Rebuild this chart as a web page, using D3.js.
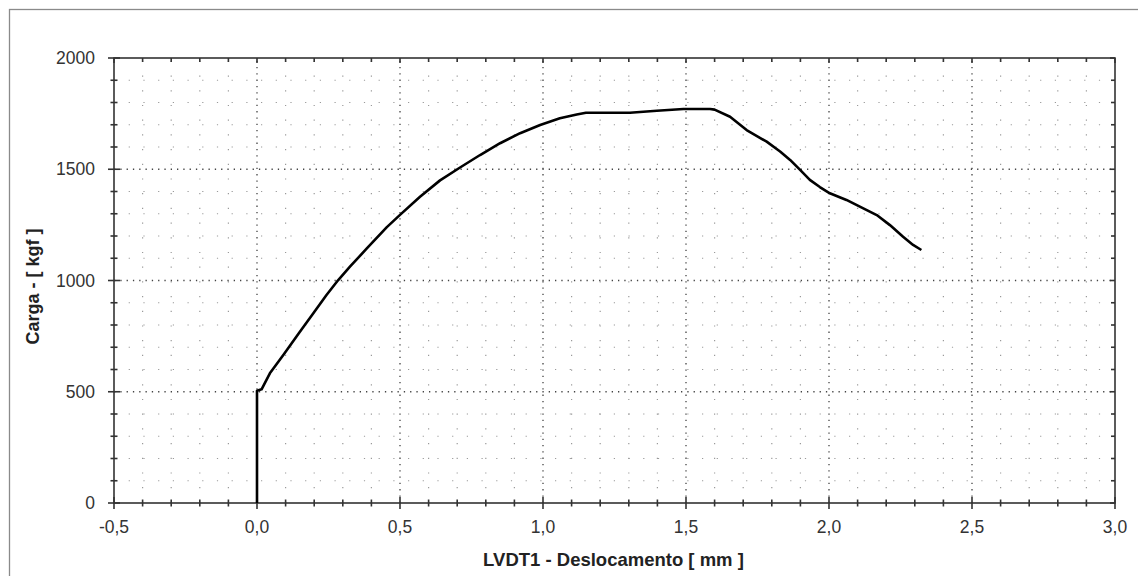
<!DOCTYPE html>
<html><head><meta charset="utf-8">
<script src="https://cdn.jsdelivr.net/npm/d3@7"></script>
<style>
html,body{margin:0;padding:0;background:#fff;overflow:hidden;}
svg{display:block;font-family:"Liberation Sans",Arial,sans-serif;}
</style></head>
<body><svg id="c" width="1138" height="576"></svg>
<script>
// ---- data ----
const deslocamento = [0.000, 0.000, 0.016, 0.045, 0.092, 0.150, 0.197, 0.243, 0.284, 0.325, 0.384, 0.454, 0.500, 0.570, 0.640, 0.710, 0.780, 0.850, 0.920, 0.990, 1.059, 1.118, 1.150, 1.304, 1.398, 1.491, 1.584, 1.600, 1.654, 1.712, 1.782, 1.829, 1.864, 1.899, 1.933, 1.968, 2.003, 2.061, 2.120, 2.167, 2.213, 2.259, 2.294, 2.323];
const carga        = [0,     505,   511,   583,   665,   770,   853,   935,   1002,  1062,  1144,  1240,  1295,  1376,  1450,  1508,  1564,  1617,  1662,  1699,  1729,  1746,  1754,  1754,  1763,  1771,  1771,  1768,  1736,  1676,  1624,  1580,  1542,  1497,  1452,  1420,  1392,  1362,  1324,  1294,  1249,  1197,  1160,  1137];
const xTicks = [-0.5, 0.0, 0.5, 1.0, 1.5, 2.0, 2.5, 3.0];
const xTickLabels = ["-0,5", "0,0", "0,5", "1,0", "1,5", "2,0", "2,5", "3,0"];
const yTicks = [0, 500, 1000, 1500, 2000];
const yTickLabels = ["0", "500", "1000", "1500", "2000"];
const xTitle = "LVDT1 - Deslocamento [ mm ]";
const yTitle = "Carga - [ kgf ]";

const svg = d3.select("#c");
const L = 114, R = 1115, T = 58, B = 503;
const x = d3.scaleLinear().domain([-0.5, 3.0]).range([L, R]);
const y = d3.scaleLinear().domain([0, 2000]).range([B, T]);

// outer frame
svg.append("rect").attr("x", 9.5).attr("y", 9.5).attr("width", 1140).attr("height", 580)
  .attr("fill", "none").attr("stroke", "#8a8a8a").attr("stroke-width", 1.3);

const xMinor = d3.range(-0.5, 3.0001, 0.1).map(v => Math.round(v * 10) / 10);
const yMinor = d3.range(0, 2001, 100);
const isMajX = v => Math.abs(v * 2 - Math.round(v * 2)) < 1e-6;
const isMajY = v => v % 500 === 0;

const g = svg.append("g");
// minor grid
g.selectAll(".mvx").data(xMinor.filter(v => !isMajX(v))).enter().append("line")
  .attr("x1", d => x(d)).attr("x2", d => x(d)).attr("y1", B).attr("y2", T)
  .attr("stroke", "#9a9a9a").attr("stroke-width", 1.2).attr("stroke-dasharray", "1.2,13.5");
g.selectAll(".mhy").data(yMinor.filter(v => !isMajY(v))).enter().append("line")
  .attr("y1", d => y(d)).attr("y2", d => y(d)).attr("x1", L).attr("x2", R)
  .attr("stroke", "#9a9a9a").attr("stroke-width", 1.2).attr("stroke-dasharray", "1.2,13.5");
// major grid
g.selectAll(".Mx").data(xTicks.slice(1, -1)).enter().append("line")
  .attr("x1", d => x(d)).attr("x2", d => x(d)).attr("y1", B).attr("y2", T)
  .attr("stroke", "#444").attr("stroke-width", 1.3).attr("stroke-dasharray", "1.3,5");
g.selectAll(".My").data(yTicks.slice(1, -1)).enter().append("line")
  .attr("y1", d => y(d)).attr("y2", d => y(d)).attr("x1", L).attr("x2", R)
  .attr("stroke", "#444").attr("stroke-width", 1.3).attr("stroke-dasharray", "1.3,5");

// axes (bottom/left with crossing ticks)
const ax = svg.append("g").attr("stroke", "#333").attr("stroke-width", 1.6);
ax.append("rect").attr("x", L).attr("y", T).attr("width", R - L).attr("height", B - T).attr("fill", "none");
xMinor.forEach(v => {
  const m = isMajX(v), px = x(v);
  ax.append("line").attr("x1", px).attr("x2", px).attr("y1", B - (m ? 6 : 3.5)).attr("y2", B + (m ? 6 : 3.5));
  ax.append("line").attr("x1", px).attr("x2", px).attr("y1", T).attr("y2", T + (m ? 5 : 4));
});
yMinor.forEach(v => {
  const m = isMajY(v), py = y(v);
  ax.append("line").attr("y1", py).attr("y2", py).attr("x1", L - (m ? 6 : 3.5)).attr("x2", L + (m ? 6 : 3.5));
  ax.append("line").attr("y1", py).attr("y2", py).attr("x1", R).attr("x2", R - (m ? 5 : 4));
});

// tick labels
svg.selectAll(".xl").data(xTicks).enter().append("text")
  .attr("x", d => x(d)).attr("y", 533).attr("text-anchor", "middle")
  .attr("font-size", 17.5).attr("fill", "#333").text((d, i) => xTickLabels[i]);
svg.selectAll(".yl").data(yTicks).enter().append("text")
  .attr("x", 95).attr("y", d => y(d) + 6).attr("text-anchor", "end")
  .attr("font-size", 17.5).attr("fill", "#333").text((d, i) => yTickLabels[i]);

// titles
svg.append("text").attr("x", (L + R) / 2 - 1).attr("y", 566).attr("text-anchor", "middle")
  .attr("font-size", 18.5).attr("font-weight", "bold").attr("fill", "#222").text(xTitle);
svg.append("text").attr("transform", `translate(39,${(T + B) / 2 + 6}) rotate(-90)`).attr("text-anchor", "middle")
  .attr("font-size", 18).attr("font-weight", "bold").attr("fill", "#222").text(yTitle);

// curve
const line = d3.line().x((d, i) => x(deslocamento[i])).y(d => y(d));
svg.append("path").datum(carga).attr("d", line).attr("fill", "none")
  .attr("stroke", "#000").attr("stroke-width", 2.6).attr("stroke-linejoin", "round");
</script></body></html>
